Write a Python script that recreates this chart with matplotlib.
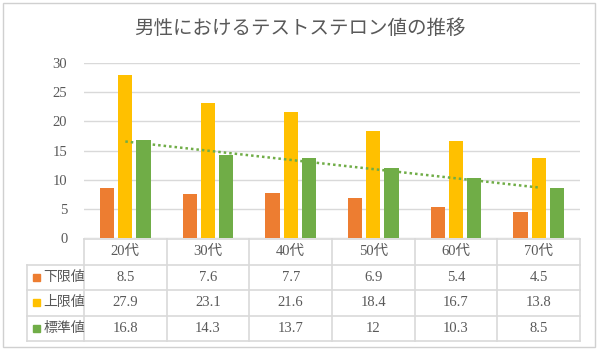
import matplotlib.pyplot as plt
import numpy as np
from matplotlib.patches import Rectangle

plt.rcParams['font.family'] = ['Liberation Serif', 'Noto Sans CJK JP']

categories = ["20代", "30代", "40代", "50代", "60代", "70代"]
series_names = ["下限値", "上限値", "標準値"]
lower = [8.5, 7.6, 7.7, 6.9, 5.4, 4.5]
upper = [27.9, 23.1, 21.6, 18.4, 16.7, 13.8]
standard = [16.8, 14.3, 13.7, 12, 10.3, 8.5]
values = [lower, upper, standard]
colors = ["#ED7D31", "#FFC000", "#70AD47"]
text_color = "#595959"
grid_color = "#D9D9D9"

W, H = 600, 352
fig = plt.figure(figsize=(6, 3.52), dpi=100)

def px_axes(x0, y0, x1, y1):
    # pixel box (top-left origin) -> figure axes
    return fig.add_axes([x0 / W, 1 - y1 / H, (x1 - x0) / W, (y1 - y0) / H])

# outer border
fig.patches.append(Rectangle((3 / W, 5 / H), 592 / W, 344 / H, transform=fig.transFigure,
                             fill=False, edgecolor="#D0D0D0", linewidth=1))

fig.text(0.5, 1 - 28 / H, "男性におけるテストステロン値の推移", ha="center", va="center",
         fontsize=14, color=text_color, family=['Noto Sans CJK JP'])

# bar chart
ax = px_axes(84, 63, 580, 238)
x = np.arange(len(categories))
offsets = [-0.22, 0, 0.22]
for vals, off, c in zip(values, offsets, colors):
    ax.bar(x + off, vals, width=0.17, color=c, zorder=3)

# linear trendline on 標準値
k, b = np.polyfit(x + 1, standard, 1)
ax.plot(x, k * (x + 1) + b, linestyle=(0, (1, 1.2)), color="#70AD47", linewidth=1.8, zorder=4)

ax.set_xlim(-0.5, len(categories) - 0.5)
ax.set_ylim(0, 30)
ax.set_yticks(range(0, 31, 5))
ax.tick_params(axis='y', length=0, pad=12, labelsize=10.5, labelcolor=text_color)
ax.set_xticks([])
ax.yaxis.grid(True, color=grid_color, linewidth=1, zorder=0)
for s in ax.spines.values():
    s.set_visible(False)

# data table
tax = px_axes(27, 239, 580, 341)
left = -0.5 - 57 / 82.7
tax.set_xlim(left, len(categories) - 0.5)
tax.set_ylim(4, 0)
tax.axis('off')
line_kw = dict(color=grid_color, linewidth=1.2, clip_on=False)
tax.plot([-0.5, 5.5], [0, 0], **line_kw)
for r in range(1, 5):
    tax.plot([left, 5.5], [r, r], **line_kw)
tax.plot([left, left], [1, 4], **line_kw)
for i in range(len(categories) + 1):
    tax.plot([i - 0.5, i - 0.5], [0, 4], **line_kw)

for i, cat in enumerate(categories):
    tax.text(i, 0.5, cat, ha="center", va="center", fontsize=10.5, color=text_color)
for r, (name, vals, c) in enumerate(zip(series_names, values, colors)):
    y = r + 1.5
    tax.add_patch(Rectangle((left + 0.07, y - 0.14), 0.085, 0.28, color=c, clip_on=False))
    tax.text(left + 0.2, y, name, ha="left", va="center", fontsize=10, color=text_color)
    for i, v in enumerate(vals):
        tax.text(i, y, f"{v:g}", ha="center", va="center", fontsize=10.5, color=text_color)

fig.savefig("out.png", dpi=100)
